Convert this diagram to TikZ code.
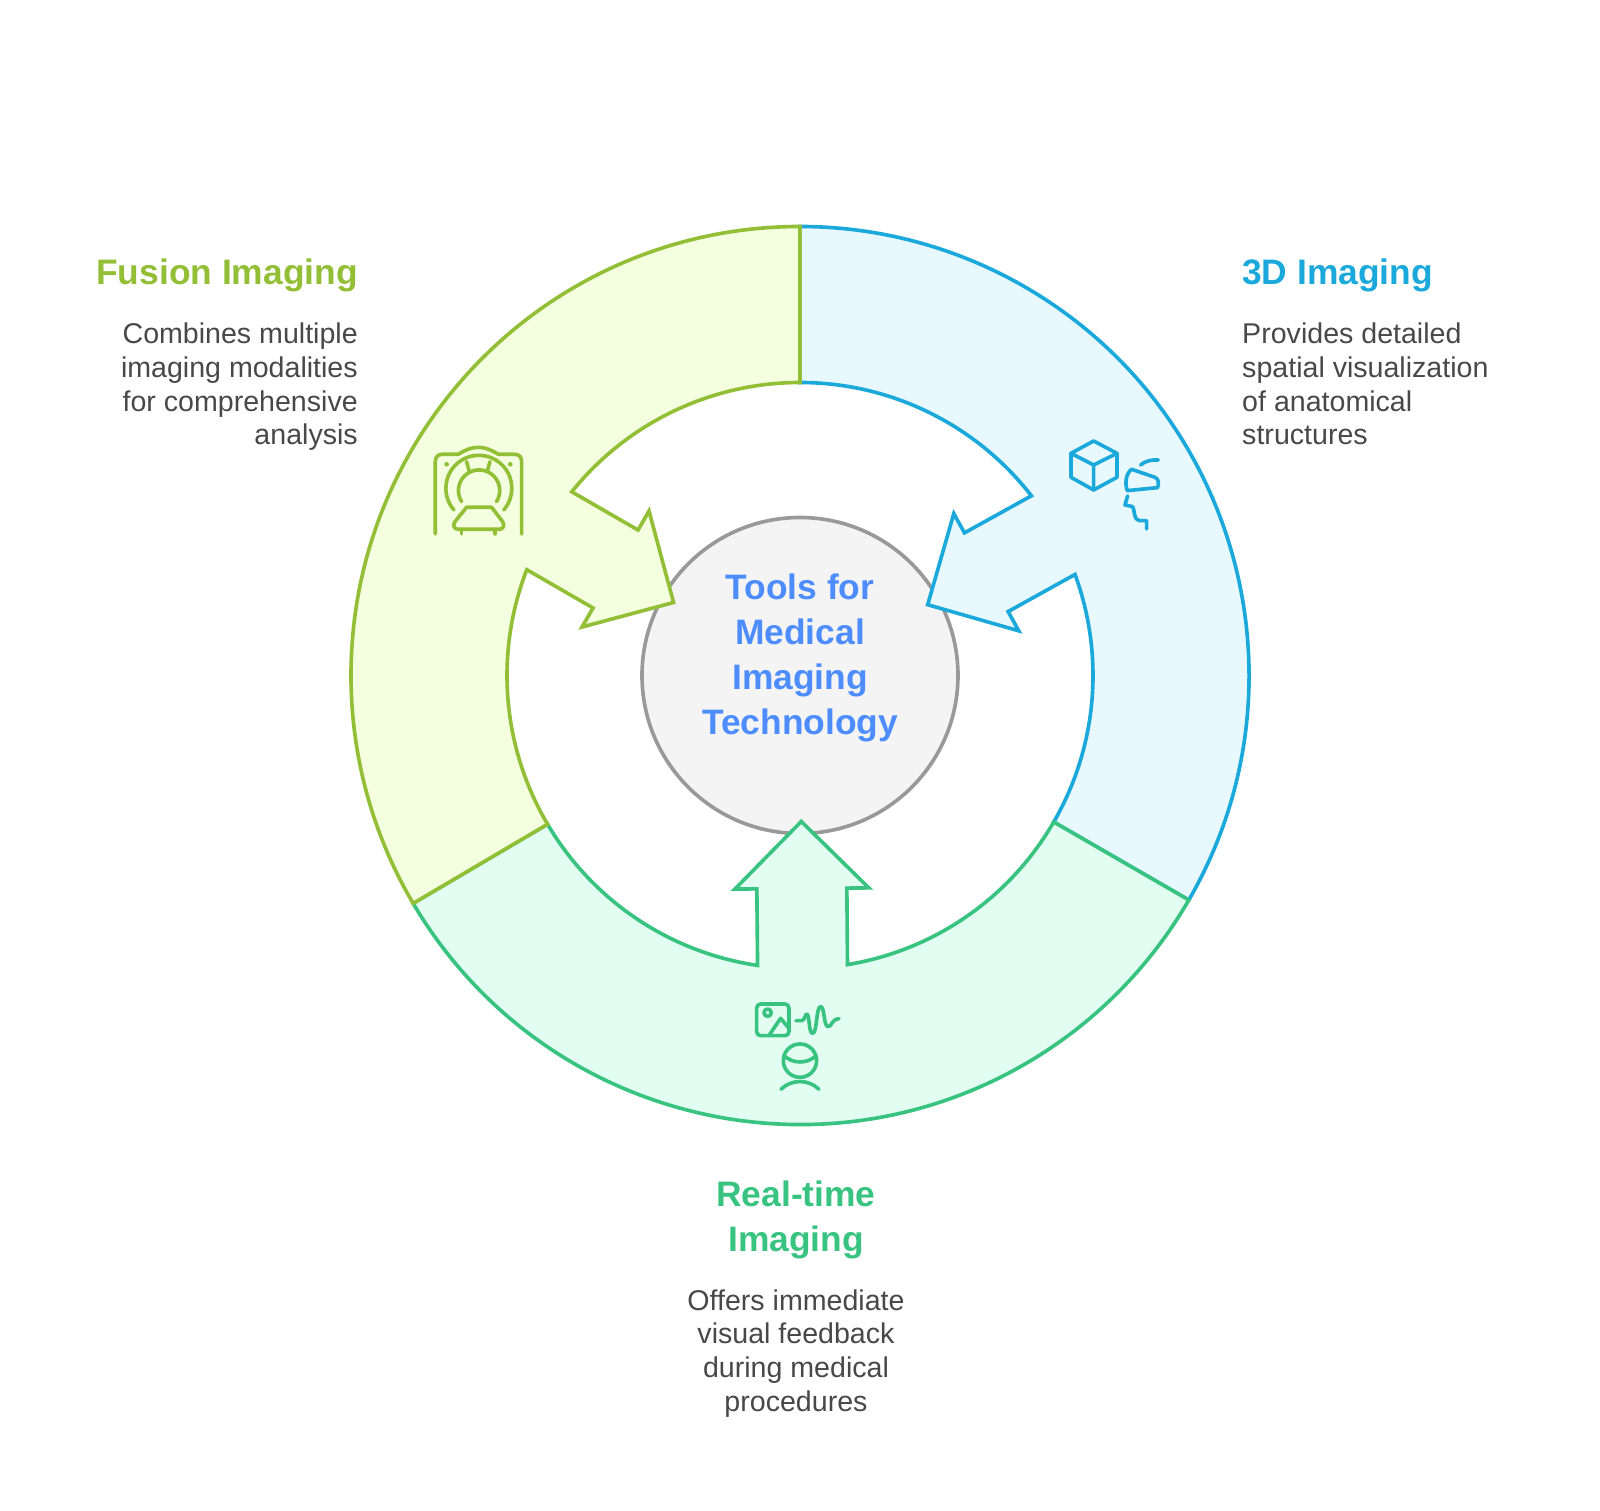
\documentclass[tikz,border=0pt]{standalone}
\usepackage{fontspec}
\setmainfont{Liberation Sans}
\usepackage{xcolor}
\usetikzlibrary{positioning}
\definecolor{limeLine}{HTML}{93BF37}
\definecolor{limeFill}{HTML}{F3FFDF}
\definecolor{skyLine}{HTML}{1BA9DC}
\definecolor{skyFill}{HTML}{E7F8FF}
\definecolor{mintLine}{HTML}{38C480}
\definecolor{mintFill}{HTML}{E2FDF2}
\definecolor{hubFill}{HTML}{F4F4F4}
\definecolor{hubLine}{HTML}{999999}
\definecolor{hubText}{HTML}{4D8DFF}
\definecolor{bodyText}{HTML}{484848}
\tikzstyle{segment} = [line width=3.1pt, line join=miter, miter limit=10]
\tikzstyle{icon} = [line width=3.1pt, line cap=round, line join=round]
\tikzstyle{titletext} = [inner sep=0pt, font=\fontsize{30.2}{38.4}\selectfont\bfseries]
\tikzstyle{bodytext} = [inner sep=0pt, text=bodyText, font=\fontsize{24.4}{28.8}\selectfont]

\begin{document}
\begin{tikzpicture}[x=0.03cm, y=0.03cm]
\useasboundingbox (-800,-834.5) rectangle (800,675.5);
% Hub
\node (hub) [draw=hubLine, fill=hubFill, line width=3.1pt, circle, minimum size=316*0.03cm, inner sep=0pt] {};

% Segments, one arrow each
\foreach \segLine/\segFill/\segTurn/\segFrom/\segTo in {skyLine/skyFill/119/211/331, mintLine/mintFill/0.5/210/329.5, limeLine/limeFill/-120/210/330.5} {
  \draw [segment, draw=\segLine, fill=\segFill, rotate=\segTurn]
    (\segFrom:449) arc (\segFrom:\segTo:449) -- (\segTo:293) arc (\segTo:278.83:293)
    -- (45,-213) -- (67,-213) -- (0,-146) -- (-67,-213) -- (-45,-213)
    -- (261.17:293) arc (261.17:\segFrom:293) -- cycle;
}

% Hub label
\node (hubLabel) [titletext, text=hubText, align=center] at (0,18) {Tools for\\Medical\\Imaging\\Technology};

% Titles
\node (fusionTitle) [titletext, text=limeLine, anchor=base east] at (-442,391) {Fusion Imaging};
\node (skyTitle) [titletext, text=skyLine, anchor=base west] at (442,391) {3D Imaging};
\node (mintTitle) [titletext, text=mintLine, align=center] at (-4,-544) {Real-time\\Imaging};

% Descriptions
\node (fusionText) [bodytext, align=right, below=26pt of fusionTitle.south east, anchor=north east] {Combines multiple\\imaging modalities\\for comprehensive\\analysis};
\node (skyText) [bodytext, align=left, below=26pt of skyTitle.south west, anchor=north west] {Provides detailed\\spatial visualization\\of anatomical\\structures};
\node (mintText) [bodytext, align=center, below=26pt of mintTitle] {Offers immediate\\visual feedback\\during medical\\procedures};

% Scanner icon
\begin{scope}[shift={(-390,255.5)}, x=0.01cm, y=-0.01cm, icon, draw=limeLine]
\draw (76,342) -- (76,125) .. controls (76,110) and (85,103) .. (97,103) -- (145,103) .. controls (165,90) and (185,82) .. (205,82) .. controls (225,82) and (245,90) .. (265,103) -- (313,103) .. controls (327,103) and (335,110) .. (335,125) -- (335,342);
\fill [limeLine] (110,133) circle (7) (301,133) circle (7);
\draw (132,270) arc (139:401:99);
\draw (155,245) arc (147.6:392.4:62);
\draw (170,125) -- (178,155) (240,125) -- (232,155);
\draw (170,262) -- (245,262) -- (278,305) .. controls (285,317) and (280,328) .. (268,328) -- (145,328) .. controls (133,328) and (127,317) .. (135,305) -- cycle;
\draw (155,328) -- (155,342) (256,328) -- (256,342);
\end{scope}

% Cube and head icon
\begin{scope}[shift={(250,250.5)}, x=0.01cm, y=-0.01cm, icon, draw=skyLine]
\draw (131,48) -- (201,85) -- (201,157) -- (131,195) -- (63,157) -- (63,85) -- cycle;
\draw (63,85) -- (131,120) -- (201,85) (131,120) -- (131,195);
\draw (245,133) -- (315,157) .. controls (327,162) and (327,175) .. (323,188) -- (232,197) .. controls (224,175) and (228,145) .. (245,133) -- cycle;
\draw (272,120) .. controls (285,108) and (305,104) .. (325,105);
\draw (233,213) -- (225,240) -- (248,245) .. controls (255,255) and (250,285) .. (268,287) -- (290,287) -- (290,312);
\end{scope}

% Picture and person icon
\begin{scope}[shift={(-60,-314.5)}, x=0.01cm, y=-0.01cm, icon, draw=mintLine]
\draw [rounded corners=12*0.01cm] (50,42) rectangle (147,137);
\draw (83,68) circle (11);
\draw (88,135) -- (122,85) -- (147,115);
\draw (168,92) -- (185,92) .. controls (195,92) and (195,72) .. (200,72) .. controls (210,72) and (205,130) .. (218,130) .. controls (232,130) and (228,50) .. (242,50) .. controls (255,50) and (250,110) .. (265,110) .. controls (275,110) and (275,88) .. (297,86);
\draw (180,212) circle (50);
\draw (133,198) .. controls (160,222) and (200,222) .. (228,198);
\draw (123,298) .. controls (155,267) and (205,267) .. (237,298);
\end{scope}
\end{tikzpicture}
\end{document}
